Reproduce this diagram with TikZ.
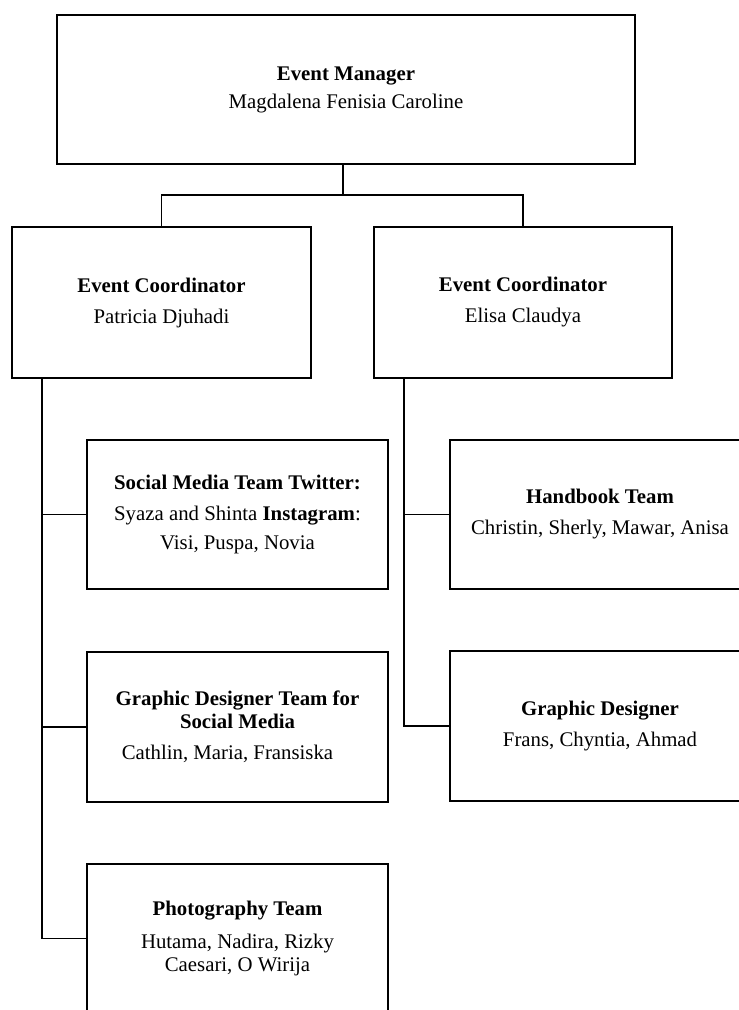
\documentclass[tikz,border=0pt]{standalone}
\usepackage{fontspec}
\setmainfont{Liberation Serif}
\usepackage{tikz}

\begin{document}
\begin{tikzpicture}[x=1pt,y=-1pt,
  orgbox/.style={draw,line width=1.5pt,inner sep=0pt,align=center,
    font=\fontsize{20.8}{23}\selectfont},
  link/.style={line width=1.5pt}]
  \useasboundingbox (0,0) rectangle (739,1010);
  \clip (0,0) rectangle (739,1010);
  % top level
  \node[orgbox,minimum width=578,minimum height=149] (mgr) at (346,89.5)
    {\textbf{Event Manager}\\[5pt] Magdalena Fenisia Caroline};
  % coordinators
  \node[orgbox,minimum width=299,minimum height=151] (cl) at (161.5,302.5)
    {\textbf{Event Coordinator}\\[8pt] Patricia Djuhadi};
  \node[orgbox,minimum width=298,minimum height=151] (cr) at (523,302.5)
    {\textbf{Event Coordinator}\\[8pt] Elisa Claudya};
  % teams under Patricia
  \node[orgbox,minimum width=301,minimum height=149] (sm) at (237.5,514.5)
    {\textbf{Social Media Team Twitter:}\\[8pt]
     Syaza and Shinta \textbf{Instagram}:\\[6pt] Visi, Puspa, Novia};
  \node[orgbox,minimum width=301,minimum height=150] (gt) at (237.5,727)
    {\textbf{Graphic Designer Team for}\\ \textbf{Social Media}\\[8pt]
     \hspace*{-20pt}Cathlin, Maria, Fransiska};
  \node[orgbox,minimum width=301,minimum height=149] (ph) at (237.5,938.5)
    {\textbf{Photography Team}\\[10pt] Hutama, Nadira, Rizky\\ Caesari, O Wirija};
  % teams under Elisa
  \node[orgbox,minimum width=300,minimum height=149] (hb) at (600,514.5)
    {\textbf{Handbook Team}\\[8pt] Christin, Sherly, Mawar, Anisa};
  \node[orgbox,minimum width=300,minimum height=150] (gd) at (600,726)
    {\textbf{Graphic Designer}\\[8pt] Frans, Chyntia, Ahmad};
  % connectors
  \coordinate (split) at (343,195);
  \coordinate (lspine) at (42,0);
  \coordinate (rspine) at (404,0);
  \draw[link] (mgr.south -| split) -- (split);
  \draw[link] (cl.north) |- (split) -| (cr.north);
  \draw[link] (cl.south -| lspine) |- (ph.west);
  \draw[link] (lspine |- sm.west) -- (sm.west);
  \draw[link] (lspine |- gt.west) -- (gt.west);
  \draw[link] (cr.south -| rspine) |- (gd.west);
  \draw[link] (rspine |- hb.west) -- (hb.west);
\end{tikzpicture}
\end{document}
